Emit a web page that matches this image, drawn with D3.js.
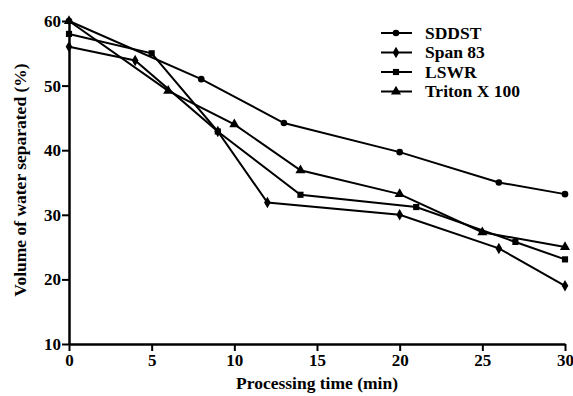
<!DOCTYPE html>
<html>
<head>
<meta charset="utf-8">
<script src="https://cdn.jsdelivr.net/npm/d3@7"></script>
<style>
  body { margin: 0; background: #fff; }
  svg { display: block; font-family: "Liberation Serif", "DejaVu Serif", serif; }
</style>
</head>
<body>
<div id="chart"></div>
<script>
// data
const sddstX = [0, 8, 13, 20, 26, 30];
const sddstY = [60, 51, 44.2, 39.7, 35, 33.2];
const spanX = [0, 4, 9, 12, 20, 26, 30];
const spanY = [56, 53.9, 42.9, 31.9, 30, 24.8, 19];
const lswrX = [0, 5, 9, 14, 21, 27, 30];
const lswrY = [58, 55, 42.9, 33.1, 31.2, 25.8, 23.1];
const tritonX = [0, 6, 10, 14, 20, 25, 30];
const tritonY = [60, 49.2, 44, 36.9, 33.2, 27.3, 25];
const xTicks = [0, 5, 10, 15, 20, 25, 30];
const yTicks = [10, 20, 30, 40, 50, 60];

const series = [
  {name: "SDDST", xs: sddstX, ys: sddstY, sym: d3.symbolCircle, size: 34},
  {name: "Span 83", xs: spanX, ys: spanY, sym: d3.symbolDiamond, size: 38},
  {name: "LSWR", xs: lswrX, ys: lswrY, sym: d3.symbolSquare, size: 38},
  {name: "Triton X 100", xs: tritonX, ys: tritonY, sym: d3.symbolTriangle, size: 44}
];

const width = 573, height = 396;
const x = d3.scaleLinear().domain([0, 30]).range([69, 565]);
const y = d3.scaleLinear().domain([10, 60]).range([344, 21]);

const svg = d3.select('#chart').append('svg')
  .attr('width', width).attr('height', height);

const line = d3.line().x(d => x(d[0])).y(d => y(d[1]));

series.forEach(s => {
  const pts = s.xs.map((v, i) => [v, s.ys[i]]);
  svg.append('path')
    .attr('d', line(pts))
    .attr('fill', 'none')
    .attr('stroke', '#000')
    .attr('stroke-width', 2);
  svg.selectAll(null).data(pts).enter()
    .append('path')
    .attr('d', d3.symbol().type(s.sym).size(s.size))
    .attr('transform', d => `translate(${x(d[0])},${y(d[1])})`)
    .attr('fill', '#000');
});

// axes
const xAxis = svg.append('g')
  .attr('transform', `translate(0,${y(10)})`)
  .call(d3.axisBottom(x).tickValues(xTicks).tickSize(7).tickPadding(3).tickSizeOuter(0));
const yAxis = svg.append('g')
  .attr('transform', `translate(${x(0)},0)`)
  .call(d3.axisLeft(y).tickValues(yTicks).tickSize(7).tickPadding(1).tickSizeOuter(0));

[xAxis, yAxis].forEach(g => {
  g.select('.domain').attr('stroke-width', 2.5);
  g.selectAll('.tick line').attr('stroke-width', 2);
  g.selectAll('.tick text')
    .attr('font-family', '"Liberation Serif", serif')
    .attr('font-size', 17).attr('font-weight', 'bold').attr('fill', '#000');
});

svg.append('text')
  .attr('x', 317).attr('y', 389)
  .attr('text-anchor', 'middle')
  .attr('font-size', 17.5).attr('font-weight', 'bold')
  .text('Processing time (min)');

svg.append('text')
  .attr('transform', 'translate(26,180) rotate(-90)')
  .attr('text-anchor', 'middle')
  .attr('font-size', 17.5).attr('font-weight', 'bold')
  .text('Volume of water separated (%)');

// legend
const legend = svg.append('g');
series.forEach((s, i) => {
  const ly = 33 + i * 19.5;
  legend.append('line')
    .attr('x1', 381).attr('x2', 412).attr('y1', ly).attr('y2', ly)
    .attr('stroke', '#000').attr('stroke-width', 2);
  legend.append('path')
    .attr('d', d3.symbol().type(s.sym).size(s.size))
    .attr('transform', `translate(396,${ly})`);
  legend.append('text')
    .attr('x', 425).attr('y', ly + 5.5)
    .attr('font-size', 17.5).attr('font-weight', 'bold')
    .text(s.name);
});
</script>
</body>
</html>
